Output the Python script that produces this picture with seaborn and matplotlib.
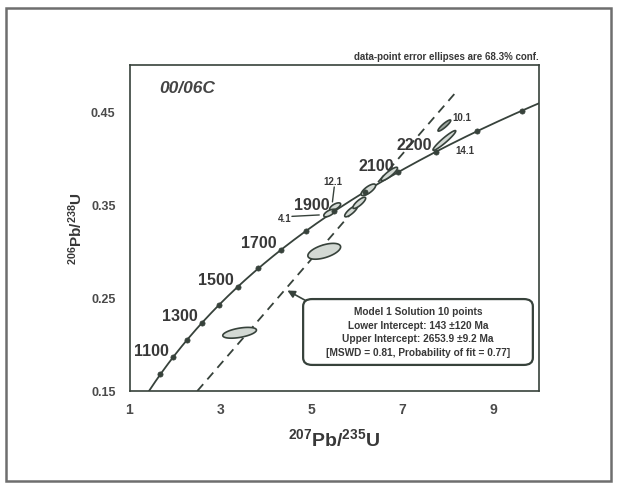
import numpy as np
import pandas as pd
import matplotlib
matplotlib.use("Agg")
import matplotlib.pyplot as plt
import seaborn as sns
from matplotlib.patches import FancyBboxPatch, Rectangle

# Uranium decay constants (1/yr)
LAMBDA_238 = 1.55125e-10
LAMBDA_235 = 9.8485e-10

# Concordia age marks (Ma) and the ones carrying a label
tick_ages = [1000, 1100, 1200, 1300, 1400, 1500, 1600, 1700, 1800,
             1900, 2000, 2100, 2200, 2300, 2400]
labelled_ages = [1100, 1300, 1500, 1700, 1900, 2100, 2200]

# Zircon spot analyses: 207Pb/235U, 206Pb/238U, 1-sigma errors, error correlation
spot_x = [3.42, 5.28, 5.87, 6.05, 6.25, 6.71, 7.92, 7.92, 5.52, 5.39]
spot_y = [0.2125, 0.300, 0.343, 0.352, 0.366, 0.383, 0.435, 0.419, 0.348, 0.341]
spot_sx = [0.37, 0.36, 0.14, 0.14, 0.16, 0.18, 0.14, 0.25, 0.12, 0.12]
spot_sy = [0.0058, 0.0085, 0.0060, 0.0060, 0.0062, 0.0072, 0.0060, 0.0106, 0.0040, 0.0040]
spot_rho = [0.50, 0.55, 0.82, 0.82, 0.75, 0.88, 0.90, 0.95, 0.65, 0.65]
spot_id = ["", "", "", "", "", "", "10.1", "14.1", "12.1", "4.1"]

# Regression (discordia) line as drawn across the plot
discordia_x = [2.49, 8.16]
discordia_y = [0.15, 0.470]

# Regression summary
model_lines = [
    "Model 1 Solution 10 points",
    "Lower Intercept: 143 \u00b1120 Ma",
    "Upper Intercept: 2653.9 \u00b19.2 Ma",
    "[MSWD = 0.81, Probability of fit = 0.77]",
]
sample_name = "00/06C"
ellipse_note = "data-point error ellipses are 68.3% conf."

sns.set_theme(style="white")
plt.rcParams["font.family"] = ["Liberation Sans", "DejaVu Sans"]
plt.rcParams["mathtext.fontset"] = "custom"
plt.rcParams["mathtext.bf"] = "Liberation Sans:bold"
plt.rcParams["mathtext.rm"] = "Liberation Sans"

INK = "#37423b"
TXT = "#383838"


def concordia(age_ma):
    t = np.asarray(age_ma, dtype=float) * 1e6
    return np.exp(LAMBDA_235 * t) - 1.0, np.exp(LAMBDA_238 * t) - 1.0


fig = plt.figure(figsize=(6.17, 4.85), dpi=100)
ax = fig.add_axes([129.5 / 617, 1 - 392 / 485, (539 - 129.5) / 617, (392 - 66) / 485])

# concordia curve
curve_ages = np.linspace(850, 2500, 500)
cx, cy = concordia(curve_ages)
curve = pd.DataFrame({"x": cx, "y": cy})
sns.lineplot(data=curve, x="x", y="y", sort=False, color=INK, lw=1.3, ax=ax)

# age marks on the curve
mx, my = concordia(tick_ages)
marks = pd.DataFrame({"age": tick_ages, "x": mx, "y": my})
sns.scatterplot(data=marks, x="x", y="y", s=14, color=INK, edgecolor=INK,
                linewidth=0.5, ax=ax, zorder=4)
for age in labelled_ages:
    row = marks[marks["age"] == age].iloc[0]
    ax.annotate(str(age), (row["x"], row["y"]), xytext=(-3, 5),
                textcoords="offset points", ha="right", va="center",
                fontsize=11.5, fontweight="bold", color=TXT)

# discordia line
dis = pd.DataFrame({"x": discordia_x, "y": discordia_y})
sns.lineplot(data=dis, x="x", y="y", color=INK, lw=1.3, ax=ax,
             linestyle=(0, (5, 3.5)))

# error ellipses
theta = np.linspace(0, 2 * np.pi, 200)
for i in range(len(spot_x)):
    ex = spot_x[i] + spot_sx[i] * np.cos(theta)
    ey = spot_y[i] + spot_sy[i] * (spot_rho[i] * np.cos(theta)
                                   + np.sqrt(1 - spot_rho[i] ** 2) * np.sin(theta))
    face = "#9ea69f" if spot_id[i] == "10.1" else "#d3d9d4"
    ax.fill(ex, ey, facecolor=face, edgecolor=INK, lw=1.2, zorder=3)

# spot labels
small = dict(fontsize=7, fontweight="bold", color=TXT)
ax.text(5.46, 0.375, "12.1", ha="center", va="center", **small)
ax.plot([5.50, 5.46], [0.369, 0.353], color=INK, lw=1.0)
ax.text(4.55, 0.3355, "4.1", ha="right", va="center", **small)
ax.plot([4.57, 5.17], [0.3375, 0.339], color=INK, lw=1.0)
ax.text(8.30, 0.4445, "10.1", ha="center", va="center", **small)
ax.text(8.36, 0.409, "14.1", ha="center", va="center", **small)

# summary box with pointer to the regression line
ax.annotate("", xy=(4.47, 0.2579), xytext=(5.08, 0.2415),
            arrowprops=dict(arrowstyle="-|>", color=INK, lw=1.2,
                            mutation_scale=11, shrinkA=0, shrinkB=0))
box = FancyBboxPatch((0.424, 0.080), 0.561, 0.202, transform=ax.transAxes,
                     boxstyle="round,pad=0,rounding_size=0.022",
                     facecolor="white", edgecolor=INK, lw=1.6, zorder=5)
ax.add_patch(box)
ax.text(0.705, 0.183, "\n".join(model_lines), transform=ax.transAxes,
        ha="center", va="center", fontsize=7.3, fontweight="bold",
        color=TXT, linespacing=1.45, zorder=6)

ax.text(0.14, 0.93, sample_name, transform=ax.transAxes, ha="center",
        va="center", fontsize=12.5, fontweight="bold", style="italic", color="#444444")
ax.text(1.0, 1.012, ellipse_note, transform=ax.transAxes, ha="right",
        va="bottom", fontsize=7, fontweight="bold", color=TXT)

# axes
ax.set_xlim(1, 10)
ax.set_ylim(0.15, 0.50)
ax.set_xticks([1, 3, 5, 7, 9])
ax.set_xticks([2, 4, 6, 8], minor=True)
ax.set_yticks([0.15, 0.25, 0.35, 0.45])
ax.set_yticks([0.20, 0.30, 0.40], minor=True)
ax.set_yticklabels(["0.15", "0.25", "0.35", "0.45"])
ax.tick_params(axis="x", which="both", direction="in", length=4, width=1,
               color=INK, pad=8, labelsize=10, labelcolor="#4a4a4a")
ax.tick_params(axis="y", which="both", direction="out", length=4, width=1,
               color=INK, pad=6, labelsize=9, labelcolor="#4a4a4a")
for lab in ax.get_xticklabels() + ax.get_yticklabels():
    lab.set_fontweight("bold")
for sp in ax.spines.values():
    sp.set_color(INK)
    sp.set_linewidth(1.2)
ax.set_xlabel(r"$\mathbf{^{207}Pb/^{235}U}$", fontsize=14, color=TXT, labelpad=8)
ax.set_ylabel(r"$\mathbf{^{206}Pb/^{238}U}$", fontsize=11, color=TXT, labelpad=4)

# outer frame
fig.patches.append(Rectangle((6 / 617, 3 / 485), 605 / 617, 473 / 485,
                             transform=fig.transFigure, fill=False,
                             edgecolor="#6e6e6e", lw=1.8))

fig.savefig("out.png", dpi=100, facecolor="white")
